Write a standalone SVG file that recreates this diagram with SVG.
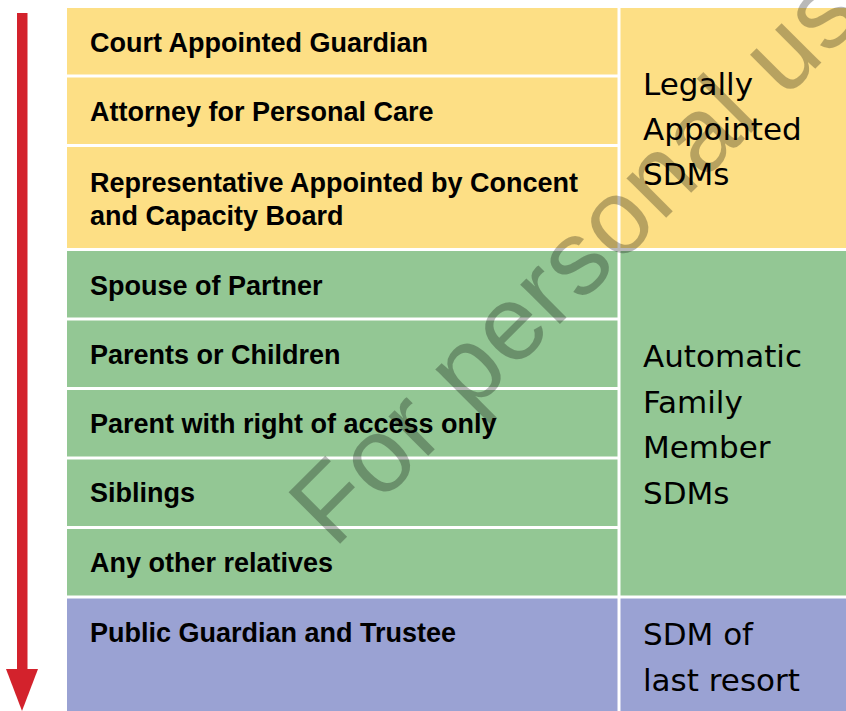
<svg xmlns="http://www.w3.org/2000/svg" width="846" height="711" viewBox="0 0 846 711">
  <style>
    .yellow { fill: #FDDF85; }
    .green  { fill: #93C794; }
    .blue   { fill: #9AA2D3; }
    .item   { font-family: "Liberation Sans", Arial, sans-serif; font-weight: bold; font-size: 27px; fill: #000; }
    .group  { font-family: "DejaVu Sans", "Liberation Sans", sans-serif; font-size: 31px; fill: #000; }
    .mark   { font-family: "Liberation Sans", Arial, sans-serif; font-size: 106px; letter-spacing: 1px; fill: #000; opacity: 0.27; }
  </style>

  <rect x="0" y="0" width="846" height="711" fill="#FFFFFF"/>

  <!-- priority rows, left column -->
  <g id="court-guardian">
    <rect class="yellow" x="67" y="8" width="550.5" height="66.5"/>
    <text class="item" x="90" y="52">Court Appointed Guardian</text>
  </g>
  <g id="attorney-personal-care">
    <rect class="yellow" x="67" y="77.5" width="550.5" height="66.5"/>
    <text class="item" x="90" y="121">Attorney for Personal Care</text>
  </g>
  <g id="ccb-representative">
    <rect class="yellow" x="67" y="147" width="550.5" height="101"/>
    <text class="item" x="90" y="192">Representative Appointed by Concent</text>
    <text class="item" x="90" y="225">and Capacity Board</text>
  </g>
  <g id="spouse-partner">
    <rect class="green" x="67" y="251" width="550.5" height="66.5"/>
    <text class="item" x="90" y="295">Spouse of Partner</text>
  </g>
  <g id="parents-children">
    <rect class="green" x="67" y="320.5" width="550.5" height="66.5"/>
    <text class="item" x="90" y="364">Parents or Children</text>
  </g>
  <g id="parent-access">
    <rect class="green" x="67" y="390" width="550.5" height="66.5"/>
    <text class="item" x="90" y="433">Parent with right of access only</text>
  </g>
  <g id="siblings">
    <rect class="green" x="67" y="459.5" width="550.5" height="66.5"/>
    <text class="item" x="90" y="502">Siblings</text>
  </g>
  <g id="other-relatives">
    <rect class="green" x="67" y="529" width="550.5" height="66.5"/>
    <text class="item" x="90" y="572">Any other relatives</text>
  </g>
  <g id="public-guardian">
    <rect class="blue" x="67" y="598.5" width="550.5" height="112.5"/>
    <text class="item" x="90" y="642">Public Guardian and Trustee</text>
  </g>

  <!-- category labels, right column -->
  <g id="legally-appointed">
    <rect class="yellow" x="620.5" y="8" width="225.5" height="240"/>
    <text class="group" x="643" y="95">Legally</text>
    <text class="group" x="643" y="140">Appointed</text>
    <text class="group" x="643" y="185">SDMs</text>
  </g>
  <g id="family-members">
    <rect class="green" x="620.5" y="251" width="225.5" height="344.5"/>
    <text class="group" x="643" y="367">Automatic</text>
    <text class="group" x="643" y="413">Family</text>
    <text class="group" x="643" y="458">Member</text>
    <text class="group" x="643" y="504">SDMs</text>
  </g>
  <g id="last-resort">
    <rect class="blue" x="620.5" y="598.5" width="225.5" height="112.5"/>
    <text class="group" x="643" y="645">SDM of</text>
    <text class="group" x="643" y="691">last resort</text>
  </g>

  <!-- priority order arrow -->
  <g id="connectors">
    <rect x="17" y="13" width="10.5" height="657" fill="#D3222C"/>
    <polygon points="6,669 38,669 22,711" fill="#D3222C"/>
  </g>

  <!-- diagonal watermark -->
  <text class="mark" transform="translate(334 550) rotate(-45)">For personal us</text>
</svg>
